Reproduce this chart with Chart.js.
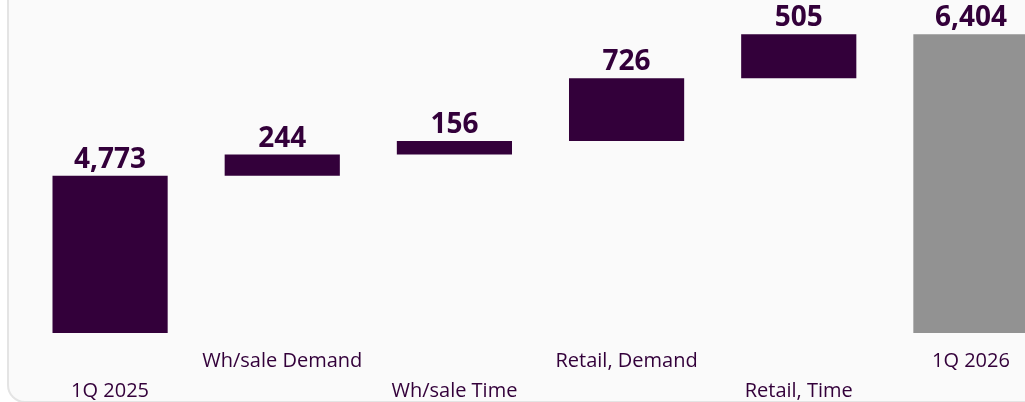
<!DOCTYPE html>
<html>
<head>
<meta charset="utf-8">
<script src="https://cdn.jsdelivr.net/npm/chart.js@4.4.1/dist/chart.umd.min.js"></script>
<style>
  html, body { margin: 0; padding: 0; background: #ffffff; width: 1025px; height: 402px; overflow: hidden; }
  #frame { position: absolute; left: 7px; top: -40px; width: 1100px; height: 439px;
           border: 2px solid #e4e4e4; border-radius: 18px; background: #fafafa; }
  #wrap { position: absolute; left: 0; top: 0; width: 1060px; height: 419px; }
</style>
</head>
<body>
<div id="frame"></div>
<div id="wrap"><canvas id="c"></canvas></div>
<script>
const categories = ['1Q 2025', 'Wh/sale Demand', 'Wh/sale Time', 'Retail, Demand', 'Retail, Time', '1Q 2026'];
const tickRows = [1, 0, 1, 0, 1, 0]; // 0 = upper row, 1 = lower row
const values = [4773, 244, 156, 726, 505, 6404];
const isTotal = [true, false, false, false, false, true];

const PURPLE = '#33003a';
const GREY = '#929292';

// build floating ranges for the waterfall
const ranges = [];
let running = 0;
values.forEach((v, i) => {
  if (isTotal[i]) { ranges.push([0, v]); running = v; }
  else { ranges.push([running, running + v]); running += v; }
});

const labelsMulti = categories.map((c, i) => tickRows[i] === 0 ? [c, ''] : ['', c]);

const valueLabels = {
  id: 'valueLabels',
  afterDatasetsDraw(chart) {
    const ctx = chart.ctx;
    const meta = chart.getDatasetMeta(0);
    ctx.save();
    ctx.font = 'bold 28px "Open Sans"';
    ctx.fillStyle = PURPLE;
    ctx.textAlign = 'center';
    ctx.textBaseline = 'alphabetic';
    meta.data.forEach((bar, i) => {
      const top = Math.min(bar.y, bar.base);
      ctx.fillText(values[i].toLocaleString('en-US'), bar.x, top - 8);
    });
    ctx.restore();
  }
};

new Chart(document.getElementById('c'), {
  type: 'bar',
  data: {
    labels: labelsMulti,
    datasets: [{
      data: ranges,
      backgroundColor: isTotal.map((t, i) => i === values.length - 1 ? GREY : PURPLE),
      borderWidth: 0,
      categoryPercentage: 1,
      barPercentage: 0.669
    }]
  },
  options: {
    responsive: true,
    maintainAspectRatio: false,
    animation: false,
    layout: { padding: { left: 24, right: 3, top: 0, bottom: 0 } },
    plugins: { legend: { display: false }, tooltip: { enabled: false } },
    scales: {
      y: { display: false, min: 2960, max: 6800 },
      x: {
        grid: { display: false, drawTicks: false },
        border: { display: false },
        ticks: {
          color: PURPLE,
          font: { family: '"Open Sans"', size: 20, lineHeight: 1.5 },
          padding: 13,
          maxRotation: 0,
          autoSkip: false
        }
      }
    }
  },
  plugins: [valueLabels]
});
</script>
</body>
</html>
